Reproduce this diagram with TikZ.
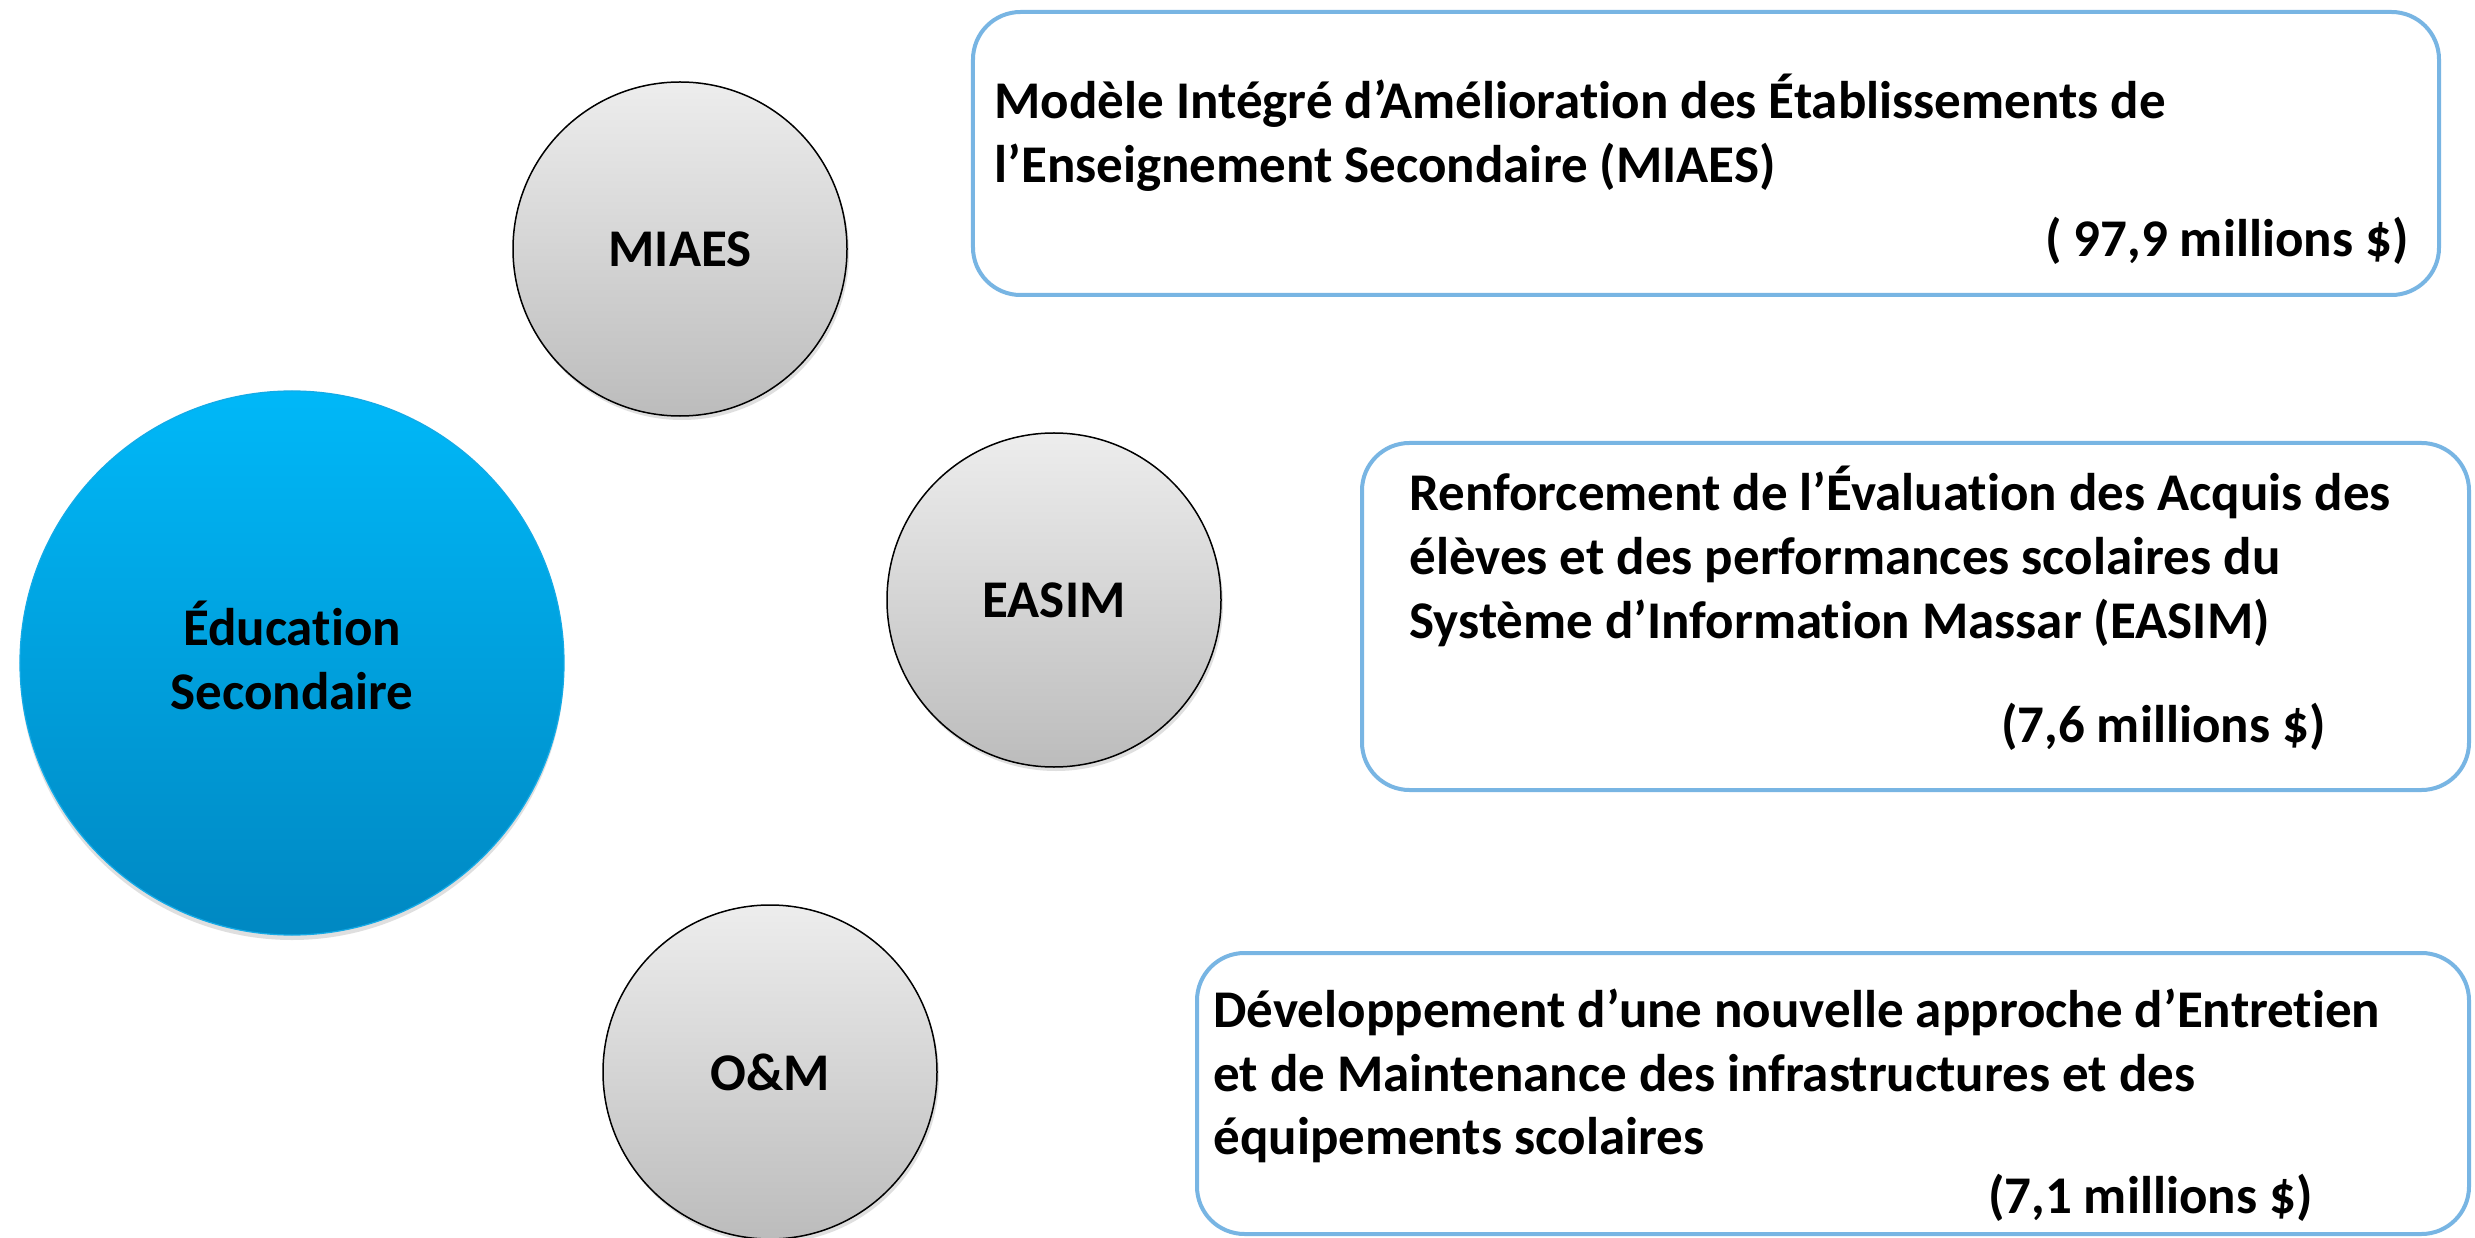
\documentclass[tikz,border=0pt]{standalone}
\usepackage{fontspec}
\setmainfont{Carlito}[Ligatures=NoCommon]
\usetikzlibrary{shadows}
\definecolor{boxline}{RGB}{120,181,227}
\definecolor{greytop}{RGB}{237,237,237}
\definecolor{greybot}{RGB}{188,188,188}
\definecolor{bluetop}{RGB}{0,184,248}
\definecolor{bluebot}{RGB}{0,136,194}
\definecolor{blueedge}{RGB}{20,170,230}
\begin{document}
\begin{tikzpicture}[x=0.4pt,y=-0.4pt]
\tikzset{
  lbl/.style={font=\bfseries\fontsize{21.2}{25.6}\selectfont, text=black},
  bubble/.style={circle, draw=black, line width=0.6pt, inner sep=0pt,
    minimum size=133.6pt, top color=greytop, bottom color=greybot, lbl,
    drop shadow={opacity=0.25, shadow xshift=0.8pt, shadow yshift=-1.6pt}},
  hub/.style={circle, draw=blueedge, line width=0.5pt, inner sep=0pt,
    minimum size=217.6pt, top color=bluetop, bottom color=bluebot,
    drop shadow={opacity=0.25, shadow xshift=0pt, shadow yshift=-2pt}},
  infobox/.style={rectangle, rounded corners=19pt, draw=boxline, line width=1.6pt,
    fill=white, inner sep=0pt},
  line/.style={lbl, inner sep=0pt, anchor=base west},
  amount/.style={lbl, inner sep=0pt, anchor=base east},
}
\useasboundingbox (0,0) rectangle (2475,1238);
\fill[white] (0,0) rectangle (2475,1238);

% boxes
\node[infobox, minimum width=586.4pt, minimum height=113.2pt] (b1) at (1706,153.5) {};
\node[infobox, minimum width=442.8pt, minimum height=138.8pt] (b2) at (1915.5,616.5) {};
\node[infobox, minimum width=508.8pt, minimum height=112.4pt] (b3) at (1833,1093.5) {};

% box 1 text
\node[line] (t11) at (994,119) {Modèle Intégré d’Amélioration des Établissements de};
\node[line] (t12) at (994,183) {l’Enseignement Secondaire (MIAES)};
\node[amount] (m1) at (2409,257) {( 97,9 millions \$)};

% box 2 text
\node[line] (t21) at (1409,511) {Renforcement de l’Évaluation des Acquis des};
\node[line] (t22) at (1409,575) {élèves et des performances scolaires du};
\node[line] (t23) at (1409,639) {Système d’Information Massar (EASIM)};
\node[amount] (m2) at (2326,742) {(7,6 millions \$)};

% box 3 text
\node[line] (t31) at (1213,1027) {Développement d’une nouvelle approche d’Entretien};
\node[line] (t32) at (1213,1091) {et de Maintenance des infrastructures et des};
\node[line] (t33) at (1213,1154) {équipements scolaires};
\node[amount] (m3) at (2313,1213) {(7,1 millions \$)};

% circles
\node[hub] (edu) at (292,663) {};
\node[lbl, align=center, inner sep=0pt] (edutxt) at ([yshift=3.2pt]edu.center) {Éducation\\Secondaire};
\node[bubble] (miaes) at (680,249) {MIAES};
\node[bubble] (easim) at (1054,600) {EASIM};
\node[bubble] (om) at (770,1072) {O\&M};
\end{tikzpicture}
\end{document}
